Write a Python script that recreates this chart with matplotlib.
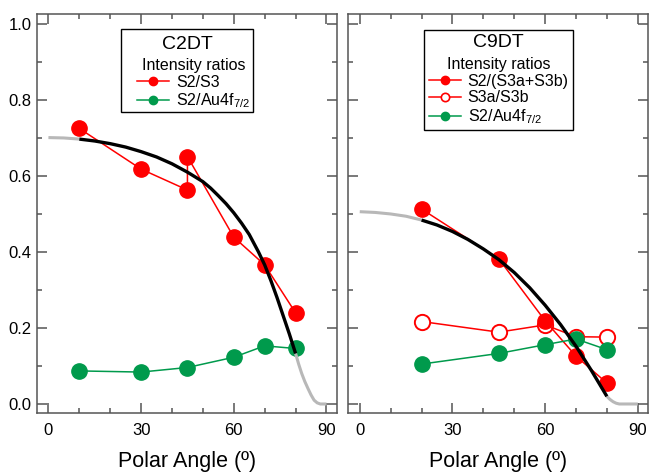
import matplotlib
matplotlib.use("Agg")
import matplotlib.pyplot as plt
from matplotlib.patches import Rectangle
from matplotlib.lines import Line2D
from matplotlib.ticker import MultipleLocator

plt.rcParams["font.family"] = ["Liberation Sans", "DejaVu Sans"]
plt.rcParams["mathtext.default"] = "regular"

RED, GREEN, GRAY, SPINE = "#ff0000", "#009a4c", "#b8b8b8", "#555555"

# ---- C2DT ----
ang_c2 = [10, 30, 45, 45, 60, 70, 80]
s2_s3_c2 = [0.725, 0.618, 0.563, 0.651, 0.439, 0.366, 0.240]
ang_c2_au = [10, 30, 45, 60, 70, 80]
s2_au_c2 = [0.087, 0.084, 0.096, 0.123, 0.153, 0.146]
fit_c2_x = [10, 15, 20, 25, 30, 35, 40, 45, 50, 52.5, 55, 57.5, 60, 62.5,
            65, 68, 70, 72, 74, 76, 78, 80]
fit_c2_y = [0.697, 0.692, 0.685, 0.676, 0.664, 0.650, 0.632, 0.610, 0.585,
            0.568, 0.548, 0.527, 0.503, 0.476, 0.446, 0.400, 0.366, 0.325,
            0.280, 0.232, 0.184, 0.133]
ext_c2_lo_x = [0, 5, 10]
ext_c2_lo_y = [0.701, 0.700, 0.697]
ext_c2_hi_x = [80, 81, 82, 83, 84, 85, 86, 87, 88, 90]
ext_c2_hi_y = [0.133, 0.105, 0.080, 0.059, 0.041, 0.024, 0.010, 0.003, 0.0, 0.0]

# ---- C9DT ----
ang_c9 = [20, 45, 60, 70, 80]
s2_s3ab_c9 = [0.513, 0.382, 0.219, 0.126, 0.055]
s3a_s3b_c9 = [0.217, 0.189, 0.208, 0.177, 0.176]
s2_au_c9 = [0.105, 0.133, 0.156, 0.171, 0.143]
fit_c9_x = [20, 25, 30, 35, 40, 45, 50, 55, 60, 65, 70, 75, 80]
fit_c9_y = [0.484, 0.471, 0.454, 0.433, 0.408, 0.380, 0.346, 0.306, 0.260,
            0.209, 0.152, 0.088, 0.020]
ext_c9_lo_x = [0, 5, 10, 15, 20]
ext_c9_lo_y = [0.506, 0.504, 0.500, 0.494, 0.484]
ext_c9_hi_x = [80, 81, 82, 83, 84, 86, 88, 90]
ext_c9_hi_y = [0.020, 0.012, 0.006, 0.002, 0.0, 0.0, 0.0, 0.0]


def style(ax, labels_y):
    ax.set_xlim(-3.7, 93.4)
    ax.set_ylim(-0.0245, 1.027)
    ax.xaxis.set_major_locator(MultipleLocator(30))
    ax.xaxis.set_minor_locator(MultipleLocator(10))
    ax.yaxis.set_major_locator(MultipleLocator(0.2))
    ax.yaxis.set_minor_locator(MultipleLocator(0.1))
    ax.yaxis.set_major_formatter(plt.FormatStrFormatter("%.1f"))
    ax.tick_params(which="both", direction="in", top=True, right=True,
                   color=SPINE, width=1.1, labelsize=12)
    ax.tick_params(which="major", length=7)
    ax.tick_params(which="minor", length=3.5)
    ax.tick_params(axis="x", pad=7)
    ax.tick_params(axis="y", pad=4, labelleft=labels_y)
    for s in ax.spines.values():
        s.set_color(SPINE)
        s.set_linewidth(1.1)
    ax.set_xlabel("Polar Angle (º)", fontsize=15.5, labelpad=9.5)


def fit(ax, lo_x, lo_y, x, y, hi_x, hi_y):
    ax.plot(lo_x, lo_y, color=GRAY, lw=2.2, zorder=5, solid_capstyle="butt")
    ax.plot(hi_x, hi_y, color=GRAY, lw=2.2, zorder=5, solid_capstyle="butt")
    ax.plot(x, y, color="black", lw=2.4, zorder=6, solid_capstyle="butt")


def box(ax, x0, y0, x1, y1, name, name_y, handles, anchor):
    ax.add_patch(Rectangle((x0, y0), x1 - x0, y1 - y0, transform=ax.transAxes,
                           facecolor="white", edgecolor="black", lw=1.0, zorder=8))
    ax.text((x0 + x1) / 2, name_y, name, transform=ax.transAxes, ha="center",
            va="center", fontsize=14, zorder=9)
    leg = ax.legend(handles=handles, title="Intensity ratios", frameon=False,
                    loc="upper left", bbox_to_anchor=anchor, borderpad=0,
                    fontsize=11.5, title_fontsize=11.5, handlelength=2.0,
                    handletextpad=0.4, labelspacing=0.12, borderaxespad=0)
    leg.set_zorder(10)


fig = plt.figure(figsize=(6.49, 4.75), dpi=100)
ax1 = fig.add_axes([0.0570, 0.1299, 0.4622, 0.8413])
ax2 = fig.add_axes([0.5367, 0.1299, 0.4622, 0.8413])

mk = dict(marker="o", ms=11, lw=1.1)
ax1.plot(ang_c2, s2_s3_c2, color=RED, **mk)
ax1.plot(ang_c2_au, s2_au_c2, color=GREEN, **mk)
fit(ax1, ext_c2_lo_x, ext_c2_lo_y, fit_c2_x, fit_c2_y, ext_c2_hi_x, ext_c2_hi_y)
style(ax1, True)

ax2.plot(ang_c9, s3a_s3b_c9, color=RED, mfc="white", mec=RED, mew=1.4, **mk)
ax2.plot(ang_c9, s2_s3ab_c9, color=RED, **mk)
ax2.plot(ang_c9, s2_au_c9, color=GREEN, **mk)
fit(ax2, ext_c9_lo_x, ext_c9_lo_y, fit_c9_x, fit_c9_y, ext_c9_hi_x, ext_c9_hi_y)
style(ax2, False)

hk = dict(marker="o", ms=6, lw=1.1)
h_red = Line2D([], [], color=RED, label="S2/S3", **hk)
h_grn = Line2D([], [], color=GREEN, label="S2/Au4f$_{7/2}$", **hk)
box(ax1, 0.28, 0.754, 0.72, 0.962, "C2DT", 0.922, [h_red, h_grn], (0.335, 0.89))

h_r2 = Line2D([], [], color=RED, label="S2/(S3a+S3b)", **hk)
h_open = Line2D([], [], color=RED, mfc="white", mec=RED, mew=1.2,
                label="S3a/S3b", **hk)
h_g2 = Line2D([], [], color=GREEN, label="S2/Au4f$_{7/2}$", **hk)
box(ax2, 0.252, 0.709, 0.749, 0.959, "C9DT", 0.927, [h_r2, h_open, h_g2],
    (0.27, 0.8925))

fig.savefig("out.png", dpi=100)
